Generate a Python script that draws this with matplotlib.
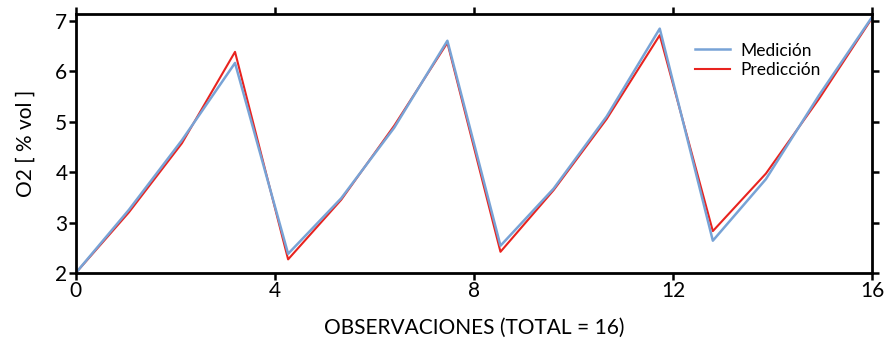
import matplotlib
matplotlib.use("Agg")
import matplotlib.pyplot as plt
import numpy as np

# 16 observations spread evenly over the 0..16 axis
n_obs = 16
x_obs = np.linspace(0, 16, n_obs)

medicion = [2.00, 3.25, 4.63, 6.16, 2.38, 3.48, 4.88, 6.60,
            2.54, 3.67, 5.10, 6.84, 2.64, 3.86, 5.52, 7.07]
prediccion = [2.00, 3.20, 4.57, 6.38, 2.27, 3.45, 4.92, 6.56,
              2.42, 3.64, 5.05, 6.71, 2.83, 3.97, 5.45, 7.05]

x_ticks = [0, 4, 8, 12, 16]
y_ticks = [2, 3, 4, 5, 6, 7]

plt.rcParams['font.family'] = ['Lato', 'DejaVu Sans']

fig = plt.figure(figsize=(8.89, 3.41), dpi=100)
ax = fig.add_axes([0.0852, 0.1994, 0.8958, 0.7596])

ax.plot(x_obs, prediccion, color='#e8231f', lw=1.5, label='Predicción')
ax.plot(x_obs, medicion, color='#78a3d6', lw=1.8, label='Medición')

ax.set_xlim(0, 16)
ax.set_ylim(2, 7.13)
ax.set_xticks(x_ticks)
ax.set_yticks(y_ticks)
ax.tick_params(direction='out', length=5, width=1.8, labelsize=15,
               top=True, right=True, pad=1)
for s in ax.spines.values():
    s.set_linewidth(2)

ax.set_xlabel('OBSERVACIONES (TOTAL = 16)', fontsize=15, labelpad=12)
ax.set_ylabel('O2 [ % vol ]', fontsize=15, labelpad=14)

h, l = ax.get_legend_handles_labels()
ax.legend(h[::-1], l[::-1], loc='upper right', frameon=False, fontsize=12.5,
          handlelength=2.0, handletextpad=0.6, labelspacing=0.2,
          bbox_to_anchor=(0.955, 0.95))

fig.savefig('out.png', dpi=100)
